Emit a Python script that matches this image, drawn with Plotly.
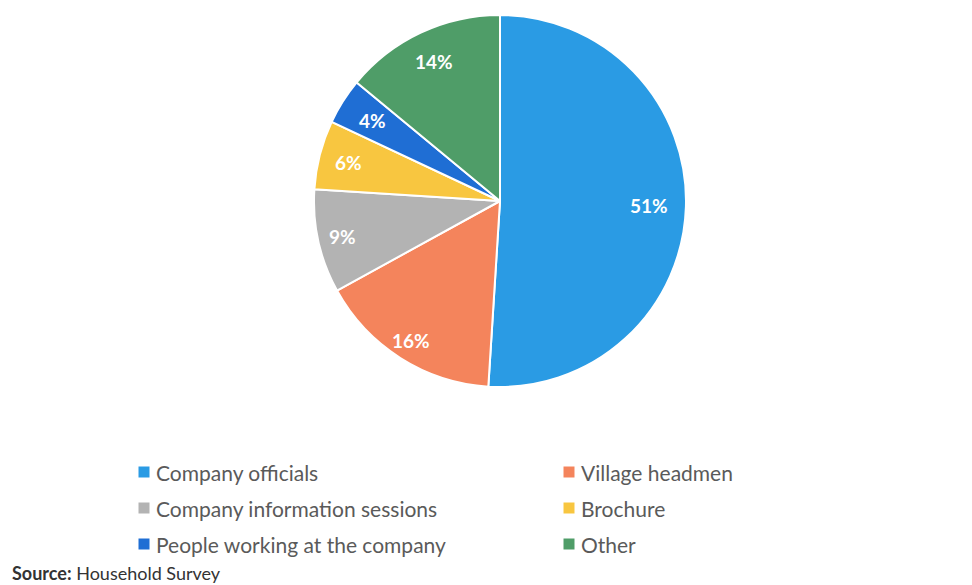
import math
import plotly.graph_objects as go

# Where households got their information
categories = [
    "Company officials",
    "Village headmen",
    "Company information sessions",
    "Brochure",
    "People working at the company",
    "Other",
]
shares = [51, 16, 9, 6, 4, 14]
colors = ["#2A9BE4", "#F4845C", "#B3B3B3", "#F8C640", "#1F6ED4", "#4F9D68"]

W, H = 972, 585
cx, cy, R = 500, 201, 186  # pie centre / radius in pixels

# how far out (fraction of radius) each percentage label sits
label_radius = [0.80, 0.89, 0.87, 0.84, 0.81, 0.83]

fig = go.Figure(
    go.Pie(
        labels=categories,
        values=shares,
        sort=False,
        direction="clockwise",
        rotation=0,
        marker=dict(colors=colors, line=dict(color="white", width=2)),
        textinfo="none",
        showlegend=False,
        hoverinfo="label+percent",
        domain=dict(
            x=[(cx - R) / W, (cx + R) / W],
            y=[(H - cy - R) / H, (H - cy + R) / H],
        ),
    )
)

annotations = []

# percentage labels at each slice's mid-angle (clockwise from 12 o'clock)
total = sum(shares)
cum = 0
for v, f in zip(shares, label_radius):
    mid = (cum + v / 2) / total * 2 * math.pi
    cum += v
    px = cx + f * R * math.sin(mid)
    py = cy - f * R * math.cos(mid)
    annotations.append(
        dict(
            text=f"{v}%", xref="paper", yref="paper",
            x=px / W, y=(H - py) / H,
            xanchor="center", yanchor="middle", showarrow=False,
            font=dict(family="Lato", size=19, color="white", weight="bold"),
        )
    )

# Two-column legend laid out row by row
col_x = [144, 569]
row_y = [472, 508, 544]
shapes = []
for i, (name, col) in enumerate(zip(categories, colors)):
    x = col_x[i % 2]
    y = row_y[i // 2]
    shapes.append(
        dict(
            type="rect", xref="paper", yref="paper",
            x0=(x - 5.5) / W, x1=(x + 5.5) / W,
            y0=(H - y - 5.5) / H, y1=(H - y + 5.5) / H,
            fillcolor=col, line=dict(width=0),
        )
    )
    annotations.append(
        dict(
            text=name, xref="paper", yref="paper",
            x=(x + 10) / W, y=(H - y) / H,
            xanchor="left", yanchor="middle", showarrow=False,
            font=dict(family="Lato", size=21, color="#5A5A5A"),
        )
    )

annotations.append(
    dict(
        text="<b>Source:</b> Household Survey",
        xref="paper", yref="paper",
        x=10 / W, y=(H - 573) / H,
        xanchor="left", yanchor="middle", showarrow=False,
        font=dict(family="Lato", size=18, color="#333333"),
    )
)

fig.update_layout(
    width=W,
    height=H,
    margin=dict(l=0, r=0, t=0, b=0),
    paper_bgcolor="white",
    plot_bgcolor="white",
    shapes=shapes,
    annotations=annotations,
)

fig.write_html("out.html")
